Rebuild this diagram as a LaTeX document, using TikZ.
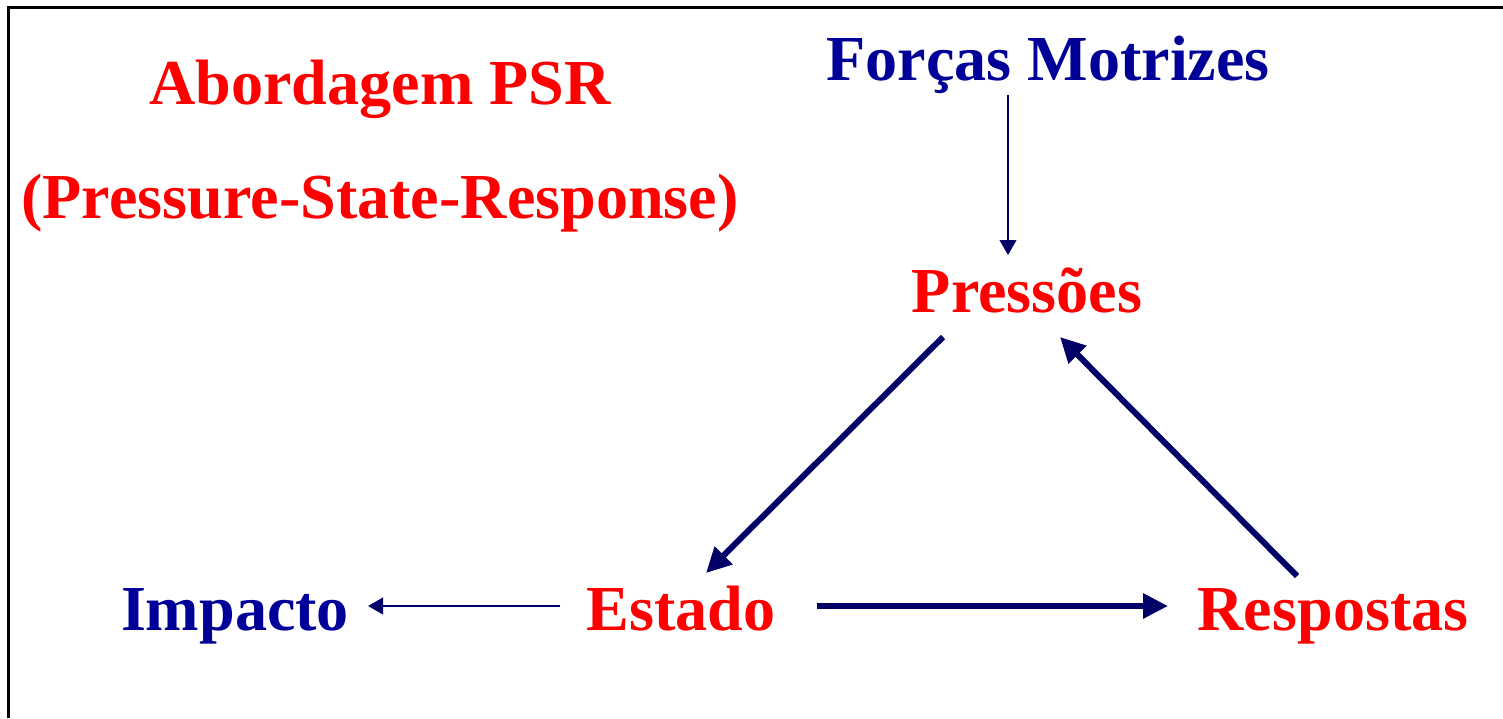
\documentclass[tikz,border=0pt]{standalone}
\usepackage{fontspec}
\setmainfont{Liberation Serif}
\usetikzlibrary{arrows.meta,calc}
\definecolor{psrred}{RGB}{255,0,0}
\definecolor{psrblue}{RGB}{0,0,153}
\definecolor{psrnavy}{RGB}{0,0,102}

\begin{document}
\begin{tikzpicture}[
	x=0.02cm, y=-0.02cm,
	every node/.style={inner sep=0pt, anchor=base, font=\fontsize{36.5}{44}\selectfont\bfseries},
	redlbl/.style={text=psrred},
	bluelbl/.style={text=psrblue},
	thinarr/.style={draw=psrnavy, line width=0.05cm, -{Triangle[length=0.3cm,width=0.33cm]}},
	thickarr/.style={draw=psrnavy, line width=0.12cm, -{Triangle[length=0.5cm,width=0.48cm]}}
	]
	\useasboundingbox (0,0) rectangle (1503,718);
	% frame
	\draw[line width=0.045cm] (8.5,718) -- (8.5,7.5) -- (1503,7.5);

	% titles
	\node[redlbl] (title) at (380,104) {Abordagem PSR};
	\node[redlbl] (subtitle) at (380,218) {(Pressure-State-Response)};

	% PSR nodes
	\node[bluelbl] (forcas) at (1048,80) {Forças Motrizes};
	\node[redlbl] (pres) at (1027,312) {Pressões};
	\node[redlbl] (est) at (681,630) {Estado};
	\node[redlbl] (resp) at (1333,630) {Respostas};
	\node[bluelbl] (imp) at (235,630) {Impacto};

	% arrows
	\draw[thinarr] ($(forcas.base)+(-40,15)$) -- ($(pres.base)+(-19,-57)$);
	\draw[thickarr] ($(pres.base)+(-84,25)$) -- ($(est.base)+(25,-57)$);
	\draw[thickarr] ($(resp.base)+(-36,-54)$) -- ($(pres.base)+(33,25)$);
	\draw[thickarr] ($(est.base)+(136,-24)$) -- ($(resp.base)+(-165,-24)$);
	\draw[thinarr] ($(est.base)+(-121,-24)$) -- ($(imp.base)+(133,-24)$);
\end{tikzpicture}
\end{document}
